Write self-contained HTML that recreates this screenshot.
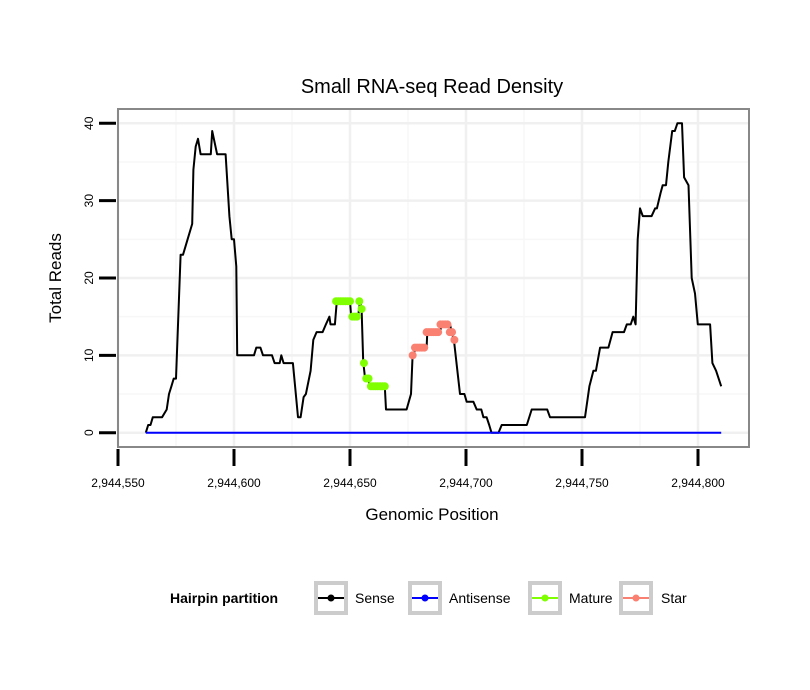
<!DOCTYPE html>
<html><head><meta charset="utf-8"><style>
body{margin:0;background:#fff;}
svg{display:block;font-family:"Liberation Sans",sans-serif;}
</style></head><body>
<svg id="chart" width="810" height="690" xmlns="http://www.w3.org/2000/svg">
<rect x="0" y="0" width="810" height="690" fill="#fff"/>
<text x="432" y="93" font-size="20" text-anchor="middle">Small RNA-seq Read Density</text>
<g id="grid"></g>
<g id="series"></g>
<rect x="118" y="109" width="631" height="338" fill="none" stroke="#888" stroke-width="2"/>
<g id="axes"></g>
<text x="432" y="520" font-size="17" text-anchor="middle">Genomic Position</text>
<text transform="translate(61,278) rotate(-90)" font-size="17" text-anchor="middle">Total Reads</text>
<g>
<text x="170" y="603" font-size="14" font-weight="bold">Hairpin partition</text>
<g>
<rect x="316" y="583" width="30" height="30" fill="#fff" stroke="#ccc" stroke-width="4"/>
<line x1="318" y1="598" x2="344" y2="598" stroke="#000" stroke-width="2"/><circle cx="331" cy="598" r="3.5" fill="#000"/>
<text x="355" y="603" font-size="14">Sense</text></g>
<g>
<rect x="410" y="583" width="30" height="30" fill="#fff" stroke="#ccc" stroke-width="4"/>
<line x1="412" y1="598" x2="438" y2="598" stroke="#00f" stroke-width="2"/><circle cx="425" cy="598" r="3.5" fill="#00f"/>
<text x="449" y="603" font-size="14">Antisense</text></g>
<g>
<rect x="530" y="583" width="30" height="30" fill="#fff" stroke="#ccc" stroke-width="4"/>
<line x1="532" y1="598" x2="558" y2="598" stroke="#7fff00" stroke-width="2"/><circle cx="545" cy="598" r="3.5" fill="#7fff00"/>
<text x="569" y="603" font-size="14">Mature</text></g>
<g>
<rect x="621" y="583" width="30" height="30" fill="#fff" stroke="#ccc" stroke-width="4"/>
<line x1="623" y1="598" x2="649" y2="598" stroke="#fa8072" stroke-width="2"/><circle cx="636" cy="598" r="3.5" fill="#fa8072"/>
<text x="661" y="603" font-size="14">Star</text></g>
</g>
</svg>
<script>
const BASE = 2944550;
const xTicks = [2944550, 2944600, 2944650, 2944700, 2944750, 2944800];
const xTickLabels = ["2,944,550","2,944,600","2,944,650","2,944,700","2,944,750","2,944,800"];
const yTicks = [0, 10, 20, 30, 40];
const yTickLabels = ["0","10","20","30","40"];
// offsets from BASE
const senseOffsets = [12,13,14,15,19,21,22,23,24,25,27,28,30,32,32.5,33.5,34.5,35.6,40,40.6,42.7,46.4,48,49,50,51,51.4,58.6,59.6,61.4,62.5,66.4,67.5,69.7,70.4,71.4,75.4,77.6,78.7,80,81,83,84.2,85.6,88.2,89.6,91.1,91.6,93.5,94.3,100,100.5,103.5,104.3,105,105.7,106.5,107.8,108.6,115,115.5,124.4,126.3,127,128.7,133,133.3,138.8,139.5,143.1,143.8,144.8,147.4,149.3,150.3,153.2,154.6,156.6,157.5,158.9,160,161,164,165.4,176.2,178.3,185,186.2,201.3,203.2,204.9,206,207.8,211.4,213.2,218.1,219.3,221,222.1,223.1,224,225,226.2,230,231.5,232.3,233.9,234.8,236.2,237.2,238.9,240,241.1,243.1,244,245.9,247.3,248.7,249.9,255.2,256.2,257.8,260];
const senseValues = [0,1,1,2,2,3,5,6,7,7,23,23,25,27,34,37,38,36,36,39,36,36,28,25,25,21.5,10,10,11,11,10,10,9,9,10,9,9,2,2,4.6,5,8,12,13,13,14,15,14,14,17,17,15,15,17,16,9.2,7,7,6,6,3,3,5,10,11,11,13,13,14,14,13,12,5,5,4,4,3,3,2,2,1,0,0,1,1,3,3,2,2,6,8,8,11,11,13,13,14,14,15,14,25,29,28,28,29,29,31,32,32,35,39,39,40,40,33,32,20,18,14,14,9,8,6];
const antisenseOffsets = [12, 260];
const antisenseValues = [0, 0];
const matureOffsets = [94,95,96,97,98,99,100,101,102,103,104,105,106,107,108,109,110,111,112,113,114,115];
const matureValues = [17,17,17,17,17,17,17,15,15,15,17,16,9,7,7,6,6,6,6,6,6,6];
const starOffsets = [127,128,129,130,131,132,133,134,135,136,137,138,139,140,141,142,143,144,145];
const starValues = [10,11,11,11,11,11,13,13,13,13,13,13,14,14,14,14,13,13,12];

const NS = "http://www.w3.org/2000/svg";
function xScale(p){ return 118 + (p - 2944550) * 2.32; }
function yScale(v){ return 432.7 - v * 7.735; }
function mk(tag, attrs, parent){ const e=document.createElementNS(NS,tag); for(const k in attrs) e.setAttribute(k,attrs[k]); parent.appendChild(e); return e; }

const grid = document.getElementById('grid');
const series = document.getElementById('series');
const axes = document.getElementById('axes');

// minor grid
for(let i=0;i<yTicks.length+1;i++){
  const v = -5 + i*10;
  const y = yScale(v);
  if(y<110||y>446) continue;
  const l = mk('line',{x1:119,x2:748,y1:y,y2:y,stroke:'#f7f7f7','stroke-width':1.5},grid);
  
  
}
for(let i=0;i<=xTicks.length;i++){
  const p = xTicks[0]-25 + i*50;
  const x = xScale(p);
  if(x<119||x>748) continue;
  const l = mk('line',{x1:x,x2:x,y1:110,y2:446,stroke:'#f7f7f7','stroke-width':1.5},grid);
  
  
}
yTicks.forEach((v,i)=>{
  const y=yScale(v);
  const l=mk('line',{x1:119,x2:748,y1:y,y2:y,stroke:'#f0f0f0','stroke-width':2.5},grid);
  
  
  const t=mk('line',{x1:99,x2:116,y1:y,y2:y,stroke:'#000','stroke-width':3},axes);
  
  
  const tx=mk('text',{transform:`translate(${93},${y}) rotate(-90)`,'font-size':12,'text-anchor':'middle'},axes);
  tx.textContent=yTickLabels[i];
  
  
});
xTicks.forEach((p,i)=>{
  const x=xScale(p);
  const l=mk('line',{x1:x,x2:x,y1:110,y2:446,stroke:'#f0f0f0','stroke-width':2.5},grid);
  
  
  const t=mk('line',{x1:x,x2:x,y1:449,y2:466,stroke:'#000','stroke-width':3},axes);
  
  
  const tx=mk('text',{x:x,y:487,'font-size':12,'text-anchor':'middle'},axes);
  tx.textContent=xTickLabels[i];
  
  
});

function line(offs, vals, color, name){
  const d = offs.map((o,i)=>(i?'L':'M')+xScale(BASE+o).toFixed(1)+','+yScale(vals[i]).toFixed(1)).join(' ');
  const p = mk('path',{d:d,fill:'none',stroke:color,'stroke-width':2,'stroke-linejoin':'round'},series);
  
  
}
function dots(offs, vals, color, name){
  offs.forEach((o,i)=>{
    const c = mk('circle',{cx:xScale(BASE+o),cy:yScale(vals[i]),r:4,fill:color},series);
    
    
  });
}
line(senseOffsets, senseValues, '#000', 'sense-line');
line(antisenseOffsets, antisenseValues, '#00f', 'antisense-line');
dots(matureOffsets, matureValues, '#7fff00', 'mature-point');
dots(starOffsets, starValues, '#fa8072', 'star-point');
</script>
</body></html>
